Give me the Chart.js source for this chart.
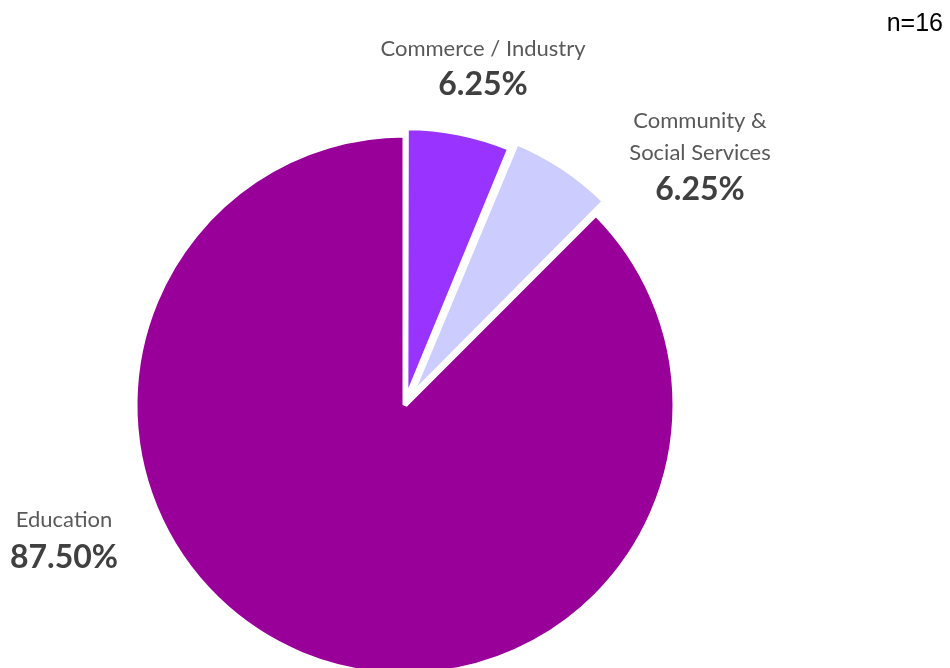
<!DOCTYPE html>
<html>
<head>
<meta charset="utf-8">
<title>Field of work</title>
<script src="https://cdn.jsdelivr.net/npm/chart.js@4"></script>
<style>
  html, body { margin: 0; padding: 0; background: #ffffff; overflow: hidden; }
  #wrap { position: relative; width: 950px; height: 810px; }
</style>
</head>
<body>
<div id="wrap"><canvas id="pie"></canvas></div>
<script>
// Sectors, in drawing order (clockwise from 12 o'clock)
const categories = ['Commerce / Industry', 'Community & Social Services', 'Education'];
const labelLines = [['Commerce / Industry'], ['Community &', 'Social Services'], ['Education']];
const shares = [6.25, 6.25, 87.5];
const sampleSize = 16;

const sliceColors = ['#9933FF', '#CCCCFF', '#990099'];
const sliceOffsets = [18, 38, 0];

// Label placement, relative to the pie centre (x = centre of text block, y = first baseline)
const labelSpots = [
  { dx: 78, dy: -349, gap: 39 },
  { dx: 295, dy: -277, gap: 32, valueGap: 40 },
  { dx: -341, dy: 122, gap: 41 }
];

const sliceLabels = {
  id: 'sliceLabels',
  afterDraw(chart) {
    const ctx = chart.ctx;
    const meta = chart.getDatasetMeta(0);
    const arc0 = meta.data[0];
    const cx = arc0.x, cy = arc0.y;
    ctx.save();
    ctx.textAlign = 'center';
    ctx.textBaseline = 'alphabetic';
    shares.forEach((v, i) => {
      const spot = labelSpots[i];
      const x = cx + spot.dx;
      let y = cy + spot.dy;
      ctx.font = '22px Lato';
      ctx.fillStyle = '#595959';
      labelLines[i].forEach((line, k) => {
        ctx.fillText(line, x, y);
        if (k < labelLines[i].length - 1) y += spot.gap;
      });
      y += spot.valueGap || spot.gap;
      ctx.font = 'bold 32px Lato';
      ctx.fillStyle = '#404040';
      ctx.fillText(v.toFixed(2) + '%', x, y);
    });
    // sample size note, top right
    ctx.font = '25px "Liberation Sans", Arial, sans-serif';
    ctx.fillStyle = '#000000';
    ctx.textAlign = 'right';
    ctx.fillText('n=' + sampleSize, chart.width - 7, 31);
    ctx.restore();
  }
};

new Chart(document.getElementById('pie'), {
  type: 'pie',
  data: {
    labels: categories,
    datasets: [{
      data: shares,
      backgroundColor: sliceColors,
      borderColor: '#ffffff',
      borderWidth: 5,
      offset: sliceOffsets,
      radius: 270
    }]
  },
  options: {
    responsive: true,
    maintainAspectRatio: false,
    animation: false,
    layout: { padding: { left: 0, right: 140, top: 0, bottom: 0 } },
    plugins: {
      legend: { display: false },
      tooltip: { enabled: false },
      title: { display: false }
    },
    events: []
  },
  plugins: [sliceLabels]
});
</script>
</body>
</html>
